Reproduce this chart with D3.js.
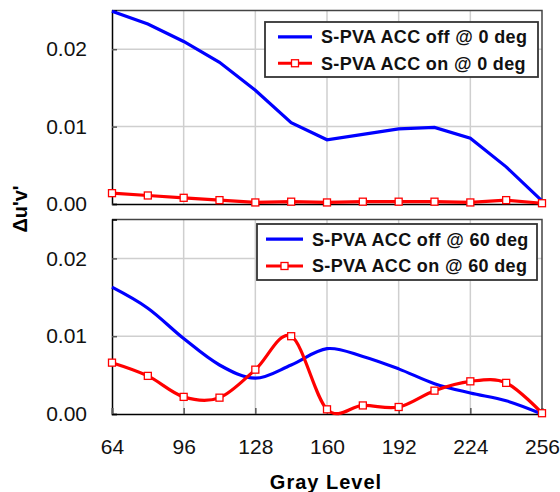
<html>
<head>
<script src="https://cdn.jsdelivr.net/npm/d3@7"></script>
<style>
  body { margin: 0; background: #fff; }
  text { font-family: "Liberation Sans", Arial, sans-serif; }
</style>
</head>
<body>
<svg width="560" height="492"></svg>
<script>
// gray levels on the x axis
var grayLevels = [64, 80, 96, 112, 128, 144, 160, 176, 192, 208, 224, 240, 256];
var xTicks = [64, 96, 128, 160, 192, 224, 256];
var yTicks = [0, 0.01, 0.02];

// top panel, 0 deg
var offDeg0 = [0.0249, 0.02325, 0.0210, 0.0183, 0.0147, 0.0105, 0.0083, 0.0090, 0.0097, 0.0099, 0.0085, 0.0048, 0.0004];
var onDeg0  = [0.0014, 0.0011, 0.0008, 0.0005, 0.0002, 0.0003, 0.0002, 0.0003, 0.0003, 0.0003, 0.0002, 0.0005, 0.0001];

// bottom panel, 60 deg
var offDeg60 = [0.0163, 0.0136, 0.0097, 0.0063, 0.0046, 0.0063, 0.0084, 0.0074, 0.0058, 0.0039, 0.0027, 0.0017, 0.0000];
var onDeg60  = [0.0066, 0.0049, 0.0022, 0.0021, 0.0057, 0.0100, 0.0006, 0.0011, 0.0009, 0.0030, 0.0042, 0.0040, 0.0001];

var legend0  = ["S-PVA ACC off @ 0 deg", "S-PVA ACC on @ 0 deg"];
var legend60 = ["S-PVA ACC off @ 60 deg", "S-PVA ACC on @ 60 deg"];

var svg = d3.select("svg");
var x = d3.scaleLinear().domain([64, 256]).range([112, 542]);

var panels = [
  { top: 10.5, bottom: 204, off: offDeg0, on: onDeg0, legend: legend0, curve: d3.curveLinear,
    lg: { x: 265, y: 22, w: 273, h: 55, lx1: 278, lx2: 312, tx: 321 }, labels: false },
  { top: 219.5, bottom: 414, off: offDeg60, on: onDeg60, legend: legend60, curve: d3.curveCardinal.tension(0),
    lg: { x: 257, y: 224, w: 280, h: 56, lx1: 266, lx2: 303, tx: 312 }, labels: true }
];

panels.forEach(function(p) {
  var y = d3.scaleLinear().domain([0, 0.025]).range([p.bottom, p.top]);
  var g = svg.append("g");

  // grid
  g.selectAll("line.vg").data(xTicks.slice(1, -1)).enter().append("line")
    .attr("x1", d => x(d)).attr("x2", d => x(d))
    .attr("y1", p.top).attr("y2", p.bottom)
    .attr("stroke", "#cfcfcf").attr("stroke-width", 1.5);
  g.selectAll("line.hg").data(yTicks.slice(1)).enter().append("line")
    .attr("x1", x(64)).attr("x2", x(256))
    .attr("y1", d => y(d)).attr("y2", d => y(d))
    .attr("stroke", "#cfcfcf").attr("stroke-width", 1.5);

  // frame top/right
  g.append("path")
    .attr("d", "M" + x(64) + "," + p.top + "H" + x(256) + "V" + p.bottom)
    .attr("fill", "none").attr("stroke", "#444").attr("stroke-width", 1.5);

  // y axis
  var ya = g.append("g").attr("transform", "translate(" + x(64) + ",0)")
    .call(d3.axisLeft(y).tickValues(yTicks).tickFormat(d3.format(".2f")).tickSize(-5).tickPadding(25));
  ya.select(".domain").attr("stroke", "#000").attr("stroke-width", 1.5);
  ya.selectAll(".tick line").attr("stroke", "#555").attr("stroke-width", 1.5);
  ya.selectAll("text").attr("font-size", 21).attr("fill", "#111")
    .style("font-family", "'Liberation Sans', Arial, sans-serif");

  // x axis
  var xa = g.append("g").attr("transform", "translate(0," + p.bottom + ")")
    .call(d3.axisBottom(x).tickValues(xTicks).tickSize(p.labels ? -6 : 0).tickPadding(25)
      .tickFormat(p.labels ? d3.format("d") : ""));
  xa.select(".domain").attr("stroke", "#000").attr("stroke-width", 1.5);
  xa.selectAll(".tick line").attr("stroke", "#555").attr("stroke-width", 1.5);
  xa.selectAll("text").attr("font-size", 21).attr("fill", "#111")
    .style("font-family", "'Liberation Sans', Arial, sans-serif");

  var line = d3.line().x((d, i) => x(grayLevels[i])).y(d => y(d)).curve(p.curve);

  g.append("path").datum(p.off).attr("d", line)
    .attr("fill", "none").attr("stroke", "#0000ff").attr("stroke-width", 3.2);
  g.append("path").datum(p.on).attr("d", line)
    .attr("fill", "none").attr("stroke", "#ff0000").attr("stroke-width", 3.2);
  g.selectAll("rect.mk").data(p.on).enter().append("rect")
    .attr("x", (d, i) => x(grayLevels[i]) - 3.5).attr("y", d => y(d) - 3.5)
    .attr("width", 7).attr("height", 7)
    .attr("fill", "#fff").attr("stroke", "#ff0000").attr("stroke-width", 1.3);

  // legend
  var L = p.lg;
  var lg = g.append("g");
  lg.append("rect").attr("x", L.x).attr("y", L.y).attr("width", L.w).attr("height", L.h)
    .attr("fill", "#fff").attr("stroke", "#333").attr("stroke-width", 1.8);
  var colors = ["#0000ff", "#ff0000"];
  p.legend.forEach(function(t, i) {
    var cy = L.y + L.h * (i === 0 ? 0.27 : 0.75);
    lg.append("line").attr("x1", L.lx1).attr("x2", L.lx2).attr("y1", cy).attr("y2", cy)
      .attr("stroke", colors[i]).attr("stroke-width", 3.2);
    if (i === 1) {
      lg.append("rect").attr("x", (L.lx1 + L.lx2) / 2 - 3.5).attr("y", cy - 3.5)
        .attr("width", 7).attr("height", 7)
        .attr("fill", "#fff").attr("stroke", "#ff0000").attr("stroke-width", 1.3);
    }
    lg.append("text").attr("x", L.tx).attr("y", cy).attr("dy", "0.36em")
      .attr("font-size", 18).attr("font-weight", "bold").attr("fill", "#111")
      .attr("letter-spacing", 0.35)
      .text(t);
  });
});

// axis titles
svg.append("text").attr("transform", "translate(27,209) rotate(-90)")
  .attr("text-anchor", "middle").attr("font-size", 20).attr("font-weight", "bold")
  .text("\u0394u'v'");
svg.append("text").attr("x", 326).attr("y", 489)
  .attr("text-anchor", "middle").attr("font-size", 20).attr("font-weight", "bold")
  .attr("letter-spacing", 1).text("Gray Level");
</script>
</body>
</html>
